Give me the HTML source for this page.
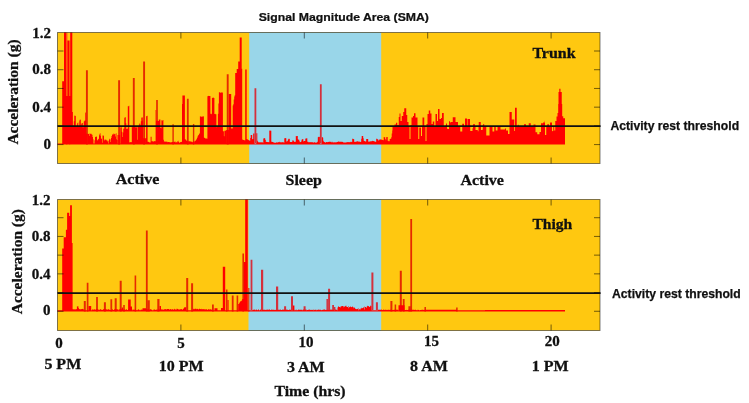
<!DOCTYPE html>
<html><head><meta charset="utf-8"><title>Signal Magnitude Area (SMA)</title>
<style>html,body{margin:0;padding:0;background:#fff}svg{display:block}</style></head>
<body>
<svg width="749" height="403" viewBox="0 0 749 403">
<rect width="749" height="403" fill="#fff"/>
<rect x="57.5" y="32.5" width="542.5" height="131.0" fill="#FFC810"/>
<rect x="249.2" y="32.5" width="132.0" height="131.0" fill="#99D6E9"/>
<path d="M66.00 144.60V32.50H67.40V144.60ZM69.20 144.60V40.40H70.20V144.60Z" fill="#FF0000" opacity="0.55"/>
<path d="M85.95 144.60V70.20H87.85V144.60ZM118.15 144.60V80.30H120.05V144.60ZM132.85 144.60V78.00H134.75V144.60ZM143.15 144.60V61.50H145.05V144.60ZM156.15 144.60V100.10H157.85V144.60ZM172.40 144.60V124.20H173.80V144.60ZM186.90 144.60V98.80H188.70V144.60ZM192.90 144.60V124.00H194.30V144.60ZM226.75 144.60V74.20H228.65V144.60Z" fill="#E62A00"/>
<path d="M57.50 144.60V143.40H565.00V144.60ZM62.20 144.60V81.30H64.00V144.60ZM64.00 144.60V32.50H66.00V144.60ZM66.00 144.60V96.00H67.40V144.60ZM67.40 144.60V40.40H69.20V144.60ZM69.20 144.60V96.00H70.20V144.60ZM70.20 144.60V32.50H72.30V144.60ZM72.30 144.60V112.00H72.90V144.60ZM72.80 144.60V125.79H73.30V144.60ZM73.30 144.60V125.58H73.80V144.60ZM73.80 144.60V121.18H74.30V144.60ZM74.30 144.60V115.49H74.80V144.60ZM74.80 144.60V116.04H75.30V144.60ZM75.30 144.60V115.84H75.80V144.60ZM75.80 144.60V126.47H76.30V144.60ZM76.30 144.60V127.01H76.80V144.60ZM76.80 144.60V124.44H77.30V144.60ZM77.30 144.60V122.92H77.80V144.60ZM77.80 144.60V122.48H78.30V144.60ZM78.30 144.60V126.92H78.80V144.60ZM78.80 144.60V127.00H79.30V144.60ZM79.30 144.60V120.39H79.80V144.60ZM79.80 144.60V119.55H80.30V144.60ZM80.30 144.60V119.67H80.80V144.60ZM80.80 144.60V125.51H81.30V144.60ZM81.30 144.60V123.75H81.80V144.60ZM81.80 144.60V123.09H82.30V144.60ZM82.30 144.60V122.88H82.80V144.60ZM82.80 144.60V127.40H83.30V144.60ZM83.30 144.60V125.73H83.80V144.60ZM83.80 144.60V121.43H84.30V144.60ZM84.30 144.60V120.75H84.80V144.60ZM84.80 144.60V120.57H85.30V144.60ZM85.30 144.60V112.54H85.80V144.60ZM85.80 144.60V112.77H86.00V144.60ZM88.00 144.60V133.97H88.50V144.60ZM88.50 144.60V133.71H89.00V144.60ZM89.00 144.60V133.48H89.50V144.60ZM89.50 144.60V135.93H90.00V144.60ZM90.00 144.60V134.03H90.50V144.60ZM90.50 144.60V133.58H91.00V144.60ZM91.00 144.60V133.84H91.50V144.60ZM91.50 144.60V134.38H92.00V144.60ZM92.00 144.60V134.64H92.50V144.60ZM92.50 144.60V137.04H93.00V144.60ZM93.00 144.60V139.32H93.50V144.60ZM93.50 144.60V144.34H94.00V144.60ZM94.00 144.60V140.36H94.50V144.60ZM95.00 144.60V136.87H95.50V144.60ZM95.50 144.60V137.03H96.00V144.60ZM96.00 144.60V136.77H96.50V144.60ZM96.50 144.60V136.61H97.00V144.60ZM97.00 144.60V140.45H97.50V144.60ZM97.50 144.60V139.66H98.00V144.60ZM98.00 144.60V138.80H98.50V144.60ZM98.50 144.60V139.34H99.00V144.60ZM99.00 144.60V135.28H99.50V144.60ZM99.50 144.60V133.84H100.00V144.60ZM100.00 144.60V133.33H100.50V144.60ZM100.50 144.60V135.77H101.00V144.60ZM101.00 144.60V138.88H101.50V144.60ZM101.50 144.60V138.15H102.00V144.60ZM102.00 144.60V142.82H102.50V144.60ZM102.50 144.60V135.57H103.00V144.60ZM103.00 144.60V135.95H103.50V144.60ZM103.50 144.60V135.19H104.00V144.60ZM104.00 144.60V139.40H104.50V144.60ZM104.50 144.60V140.42H105.00V144.60ZM105.00 144.60V139.52H105.50V144.60ZM105.50 144.60V139.78H106.00V144.60ZM106.00 144.60V140.47H106.50V144.60ZM106.50 144.60V139.84H107.00V144.60ZM107.00 144.60V140.54H107.50V144.60ZM107.50 144.60V141.54H108.00V144.60ZM108.00 144.60V140.65H108.50V144.60ZM109.00 144.60V139.52H109.50V144.60ZM109.50 144.60V138.79H110.00V144.60ZM110.00 144.60V142.11H110.50V144.60ZM110.50 144.60V139.37H111.00V144.60ZM111.00 144.60V136.10H111.50V144.60ZM111.50 144.60V137.98H112.00V144.60ZM112.00 144.60V134.87H112.50V144.60ZM112.50 144.60V134.19H113.00V144.60ZM113.00 144.60V134.45H113.50V144.60ZM113.50 144.60V133.61H114.00V144.60ZM114.00 144.60V133.68H114.50V144.60ZM114.50 144.60V134.28H115.00V144.60ZM115.00 144.60V133.66H115.50V144.60ZM115.50 144.60V136.42H116.00V144.60ZM116.00 144.60V133.21H116.50V144.60ZM116.50 144.60V139.31H117.00V144.60ZM117.00 144.60V134.98H117.50V144.60ZM117.50 144.60V140.08H117.80V144.60ZM120.30 144.60V127.38H120.80V144.60ZM120.80 144.60V127.29H121.30V144.60ZM121.30 144.60V127.16H121.80V144.60ZM121.80 144.60V131.81H122.30V144.60ZM122.30 144.60V136.89H122.80V144.60ZM122.80 144.60V132.48H123.30V144.60ZM123.30 144.60V128.72H123.80V144.60ZM123.80 144.60V128.53H124.30V144.60ZM124.30 144.60V117.72H124.80V144.60ZM124.80 144.60V117.36H125.30V144.60ZM125.30 144.60V117.28H125.80V144.60ZM125.80 144.60V123.25H126.30V144.60ZM126.30 144.60V128.89H126.80V144.60ZM126.80 144.60V128.78H127.30V144.60ZM127.30 144.60V128.74H127.80V144.60ZM127.80 144.60V106.25H128.30V144.60ZM128.30 144.60V106.19H128.80V144.60ZM128.80 144.60V105.78H129.30V144.60ZM129.30 144.60V142.19H129.80V144.60ZM129.80 144.60V142.38H130.30V144.60ZM130.30 144.60V142.12H130.80V144.60ZM130.80 144.60V142.12H131.30V144.60ZM131.30 144.60V142.32H131.80V144.60ZM131.80 144.60V126.81H132.30V144.60ZM132.30 144.60V127.15H132.80V144.60ZM132.80 144.60V127.37H133.00V144.60ZM134.80 144.60V126.96H135.30V144.60ZM135.30 144.60V127.35H135.80V144.60ZM135.80 144.60V127.39H136.30V144.60ZM136.30 144.60V127.36H136.80V144.60ZM136.80 144.60V126.89H137.30V144.60ZM137.30 144.60V139.78H137.80V144.60ZM137.80 144.60V126.28H138.30V144.60ZM138.30 144.60V126.26H138.80V144.60ZM138.80 144.60V124.76H139.30V144.60ZM139.30 144.60V123.60H139.80V144.60ZM139.80 144.60V123.82H140.30V144.60ZM140.30 144.60V125.59H140.80V144.60ZM140.80 144.60V121.23H141.30V144.60ZM141.30 144.60V117.62H141.80V144.60ZM141.80 144.60V117.74H142.30V144.60ZM142.30 144.60V117.17H142.80V144.60ZM142.80 144.60V120.38H143.10V144.60ZM145.10 144.60V138.25H145.60V144.60ZM145.60 144.60V138.17H146.10V144.60ZM146.10 144.60V116.15H146.60V144.60ZM146.60 144.60V115.99H147.10V144.60ZM147.10 144.60V115.81H147.60V144.60ZM147.60 144.60V141.73H148.10V144.60ZM148.10 144.60V141.64H148.60V144.60ZM148.60 144.60V142.11H149.10V144.60ZM149.10 144.60V142.39H149.60V144.60ZM149.60 144.60V142.23H150.10V144.60ZM150.10 144.60V142.42H150.60V144.60ZM150.60 144.60V136.77H151.10V144.60ZM151.10 144.60V136.63H151.60V144.60ZM151.60 144.60V141.28H152.10V144.60ZM152.10 144.60V141.19H152.60V144.60ZM152.60 144.60V141.14H153.10V144.60ZM153.10 144.60V141.52H153.60V144.60ZM153.60 144.60V141.39H154.10V144.60ZM154.10 144.60V140.93H154.60V144.60ZM154.60 144.60V141.27H155.10V144.60ZM155.10 144.60V141.29H155.60V144.60ZM155.60 144.60V110.09H156.10V144.60ZM156.10 144.60V109.91H156.20V144.60ZM157.90 144.60V121.04H158.40V144.60ZM158.40 144.60V120.70H158.90V144.60ZM158.90 144.60V119.11H159.40V144.60ZM159.40 144.60V119.88H159.90V144.60ZM159.90 144.60V119.62H160.40V144.60ZM160.40 144.60V128.02H160.90V144.60ZM160.90 144.60V128.35H161.40V144.60ZM161.40 144.60V120.15H161.90V144.60ZM161.90 144.60V120.50H162.40V144.60ZM162.40 144.60V120.46H162.90V144.60ZM162.90 144.60V119.97H163.40V144.60ZM163.40 144.60V139.86H163.90V144.60ZM163.90 144.60V141.38H164.40V144.60ZM164.40 144.60V141.38H164.90V144.60ZM164.90 144.60V141.70H165.40V144.60ZM165.40 144.60V141.49H165.90V144.60ZM165.90 144.60V141.66H166.40V144.60ZM166.40 144.60V141.48H166.90V144.60ZM166.90 144.60V142.15H167.40V144.60ZM167.40 144.60V141.75H167.90V144.60ZM167.90 144.60V141.88H168.40V144.60ZM168.40 144.60V142.02H168.90V144.60ZM168.90 144.60V142.32H169.40V144.60ZM169.40 144.60V141.98H169.90V144.60ZM169.90 144.60V142.43H170.40V144.60ZM170.40 144.60V142.14H170.90V144.60ZM170.90 144.60V142.21H171.40V144.60ZM171.40 144.60V142.25H171.90V144.60ZM171.90 144.60V141.89H172.40V144.60ZM174.00 144.60V141.80H174.50V144.60ZM174.50 144.60V141.66H175.00V144.60ZM175.00 144.60V141.60H175.50V144.60ZM175.50 144.60V142.51H176.00V144.60ZM176.00 144.60V142.00H176.50V144.60ZM176.50 144.60V142.42H177.00V144.60ZM177.00 144.60V142.23H177.50V144.60ZM177.50 144.60V141.06H178.00V144.60ZM178.00 144.60V140.83H178.50V144.60ZM178.50 144.60V142.02H179.00V144.60ZM179.00 144.60V142.52H179.50V144.60ZM179.50 144.60V142.67H180.00V144.60ZM180.00 144.60V141.92H180.50V144.60ZM180.50 144.60V142.30H181.00V144.60ZM181.00 144.60V141.92H181.50V144.60ZM181.50 144.60V141.87H182.00V144.60ZM182.00 144.60V142.29H182.40V144.60ZM182.40 144.60V95.40H184.90V144.60ZM182.00 144.60V104.00H182.60V144.60ZM184.90 144.60V139.19H185.40V144.60ZM185.40 144.60V139.60H185.90V144.60ZM185.90 144.60V140.15H186.40V144.60ZM186.40 144.60V140.66H186.90V144.60ZM186.90 144.60V140.44H187.00V144.60ZM188.80 144.60V141.17H189.30V144.60ZM189.30 144.60V141.18H189.80V144.60ZM189.80 144.60V141.31H190.30V144.60ZM190.30 144.60V141.61H190.80V144.60ZM190.80 144.60V141.49H191.30V144.60ZM191.30 144.60V141.69H191.80V144.60ZM191.80 144.60V141.75H192.30V144.60ZM192.30 144.60V142.33H192.80V144.60ZM192.80 144.60V142.20H193.00V144.60ZM194.40 144.60V141.19H194.90V144.60ZM194.90 144.60V141.08H195.40V144.60ZM195.40 144.60V140.44H195.90V144.60ZM195.90 144.60V140.09H196.40V144.60ZM196.40 144.60V139.01H196.90V144.60ZM196.90 144.60V137.94H197.40V144.60ZM197.40 144.60V136.45H197.90V144.60ZM197.90 144.60V135.51H198.40V144.60ZM198.40 144.60V134.98H198.90V144.60ZM198.90 144.60V133.98H199.40V144.60ZM199.40 144.60V133.34H199.90V144.60ZM199.90 144.60V116.20H200.40V144.60ZM200.40 144.60V116.62H200.90V144.60ZM200.90 144.60V116.70H201.40V144.60ZM201.40 144.60V116.78H201.90V144.60ZM201.90 144.60V116.26H202.40V144.60ZM202.40 144.60V116.65H202.90V144.60ZM202.90 144.60V116.61H203.40V144.60ZM203.40 144.60V116.25H203.90V144.60ZM203.90 144.60V137.61H204.40V144.60ZM204.40 144.60V138.10H204.90V144.60ZM204.90 144.60V138.00H205.40V144.60ZM205.40 144.60V138.82H205.90V144.60ZM205.90 144.60V138.43H206.40V144.60ZM206.40 144.60V138.49H206.90V144.60ZM206.90 144.60V138.84H207.40V144.60ZM207.40 144.60V96.33H207.90V144.60ZM207.90 144.60V95.86H208.40V144.60ZM208.40 144.60V96.05H208.90V144.60ZM208.90 144.60V96.11H209.40V144.60ZM209.40 144.60V95.99H209.90V144.60ZM209.90 144.60V95.89H210.40V144.60ZM210.40 144.60V113.87H210.90V144.60ZM210.90 144.60V114.16H211.40V144.60ZM211.40 144.60V113.66H211.90V144.60ZM211.90 144.60V97.94H212.40V144.60ZM212.40 144.60V97.86H212.90V144.60ZM212.90 144.60V97.56H213.40V144.60ZM213.40 144.60V97.78H213.90V144.60ZM213.90 144.60V97.99H214.40V144.60ZM214.40 144.60V114.01H214.90V144.60ZM214.90 144.60V113.70H215.40V144.60ZM215.40 144.60V114.34H215.90V144.60ZM215.90 144.60V114.20H216.40V144.60ZM216.40 144.60V127.33H216.90V144.60ZM216.90 144.60V126.72H217.40V144.60ZM217.40 144.60V126.84H217.90V144.60ZM217.90 144.60V113.68H218.40V144.60ZM218.40 144.60V103.45H218.90V144.60ZM218.90 144.60V92.34H219.40V144.60ZM219.40 144.60V92.24H219.90V144.60ZM219.90 144.60V92.45H220.40V144.60ZM220.40 144.60V92.79H220.90V144.60ZM220.90 144.60V92.72H221.40V144.60ZM221.40 144.60V92.33H221.90V144.60ZM221.90 144.60V92.25H222.40V144.60ZM222.40 144.60V92.79H222.90V144.60ZM222.90 144.60V131.10H223.40V144.60ZM223.40 144.60V131.46H223.90V144.60ZM223.90 144.60V136.31H224.40V144.60ZM224.40 144.60V130.69H224.90V144.60ZM224.90 144.60V130.89H225.40V144.60ZM225.40 144.60V130.46H225.90V144.60ZM225.90 144.60V129.97H226.40V144.60ZM226.40 144.60V130.33H226.70V144.60ZM228.70 144.60V93.90H229.20V144.60ZM229.20 144.60V93.90H229.70V144.60ZM229.70 144.60V93.90H230.20V144.60ZM230.20 144.60V93.90H230.70V144.60ZM230.70 144.60V93.90H231.20V144.60ZM231.20 144.60V128.50H231.70V144.60ZM231.70 144.60V128.50H232.20V144.60ZM232.20 144.60V128.50H232.70V144.60ZM232.70 144.60V105.38H233.20V144.60ZM233.20 144.60V104.13H233.70V144.60ZM233.70 144.60V99.50H234.20V144.60ZM234.20 144.60V96.42H234.70V144.60ZM234.70 144.60V95.28H235.20V144.60ZM235.20 144.60V72.90H235.70V144.60ZM235.70 144.60V72.90H236.20V144.60ZM236.20 144.60V72.90H236.70V144.60ZM236.70 144.60V68.90H237.20V144.60ZM237.20 144.60V68.90H237.70V144.60ZM237.70 144.60V68.90H238.20V144.60ZM238.20 144.60V61.50H238.70V144.60ZM238.70 144.60V61.50H239.20V144.60ZM239.20 144.60V61.50H239.70V144.60ZM239.70 144.60V37.40H240.20V144.60ZM240.20 144.60V37.40H240.70V144.60ZM240.70 144.60V37.40H241.20V144.60ZM241.20 144.60V37.40H241.70V144.60ZM241.70 144.60V68.70H242.20V144.60ZM242.20 144.60V139.50H242.70V144.60ZM242.70 144.60V139.70H243.20V144.60ZM243.20 144.60V139.90H243.70V144.60ZM243.70 144.60V140.10H244.20V144.60ZM244.20 144.60V140.30H244.70V144.60ZM244.70 144.60V140.50H245.20V144.60ZM245.20 144.60V69.50H245.70V144.60ZM245.70 144.60V69.50H246.20V144.60ZM246.20 144.60V69.50H246.70V144.60ZM246.70 144.60V139.03H247.20V144.60ZM247.20 144.60V139.34H247.70V144.60ZM247.70 144.60V139.66H248.20V144.60ZM248.20 144.60V139.97H248.70V144.60ZM248.70 144.60V140.24H249.20V144.60ZM249.20 144.60V140.50H249.70V144.60ZM249.70 144.60V140.76H250.20V144.60ZM250.20 144.60V138.00H250.70V144.60ZM250.70 144.60V135.00H251.20V144.60ZM251.20 144.60V135.00H251.70V144.60ZM251.70 144.60V135.00H252.20V144.60ZM252.20 144.60V139.32H252.70V144.60ZM252.70 144.60V139.03H253.20V144.60ZM253.20 144.60V133.50H253.70V144.60ZM253.70 144.60V133.50H254.20V144.60ZM254.20 144.60V133.50H254.50V144.60ZM256.30 144.60V133.33H256.80V144.60ZM256.80 144.60V133.26H257.30V144.60ZM257.30 144.60V140.76H257.80V144.60ZM257.80 144.60V141.79H258.30V144.60ZM258.30 144.60V142.31H258.80V144.60ZM258.80 144.60V142.62H259.30V144.60ZM259.30 144.60V142.32H259.80V144.60ZM259.80 144.60V142.27H260.30V144.60ZM260.30 144.60V142.28H260.80V144.60ZM260.80 144.60V142.38H261.30V144.60ZM261.30 144.60V142.14H261.80V144.60ZM261.80 144.60V142.32H262.30V144.60ZM262.30 144.60V142.17H262.80V144.60ZM262.80 144.60V142.64H263.30V144.60ZM263.30 144.60V138.53H263.80V144.60ZM263.80 144.60V138.23H264.30V144.60ZM264.30 144.60V138.02H264.80V144.60ZM264.80 144.60V138.53H265.30V144.60ZM265.30 144.60V139.97H265.80V144.60ZM265.80 144.60V141.92H266.30V144.60ZM266.30 144.60V141.70H266.80V144.60ZM266.80 144.60V141.99H267.30V144.60ZM267.30 144.60V142.08H267.80V144.60ZM267.80 144.60V142.13H268.30V144.60ZM268.30 144.60V141.95H268.80V144.60ZM268.80 144.60V142.18H269.30V144.60ZM269.30 144.60V130.55H269.80V144.60ZM269.80 144.60V130.73H270.30V144.60ZM270.30 144.60V130.61H270.80V144.60ZM270.80 144.60V130.83H271.30V144.60ZM271.30 144.60V141.69H271.80V144.60ZM271.80 144.60V141.76H272.30V144.60ZM272.30 144.60V142.04H272.80V144.60ZM272.80 144.60V142.08H273.30V144.60ZM273.30 144.60V142.41H273.80V144.60ZM273.80 144.60V142.46H274.30V144.60ZM274.30 144.60V142.70H274.80V144.60ZM274.80 144.60V142.70H275.30V144.60ZM275.30 144.60V142.69H275.80V144.60ZM275.80 144.60V142.74H276.30V144.60ZM276.30 144.60V142.34H276.80V144.60ZM276.80 144.60V142.23H277.30V144.60ZM277.30 144.60V142.63H277.80V144.60ZM277.80 144.60V141.99H278.30V144.60ZM278.30 144.60V142.33H278.80V144.60ZM278.80 144.60V142.21H279.30V144.60ZM279.30 144.60V141.73H279.80V144.60ZM279.80 144.60V142.24H280.30V144.60ZM280.30 144.60V142.33H280.80V144.60ZM280.80 144.60V142.19H281.30V144.60ZM281.30 144.60V142.31H281.80V144.60ZM281.80 144.60V142.42H282.30V144.60ZM282.30 144.60V142.00H282.80V144.60ZM282.80 144.60V142.31H283.30V144.60ZM283.30 144.60V142.35H283.80V144.60ZM283.80 144.60V142.63H284.30V144.60ZM284.30 144.60V138.21H284.80V144.60ZM284.80 144.60V138.23H285.30V144.60ZM285.30 144.60V138.06H285.80V144.60ZM285.80 144.60V138.27H286.30V144.60ZM286.30 144.60V141.57H286.80V144.60ZM286.80 144.60V141.49H287.30V144.60ZM287.30 144.60V141.09H287.80V144.60ZM287.80 144.60V139.77H288.30V144.60ZM288.30 144.60V138.74H288.80V144.60ZM288.80 144.60V138.90H289.30V144.60ZM289.30 144.60V138.72H289.80V144.60ZM289.80 144.60V142.05H290.30V144.60ZM290.30 144.60V141.90H290.80V144.60ZM290.80 144.60V141.99H291.30V144.60ZM291.30 144.60V142.03H291.80V144.60ZM291.80 144.60V142.11H292.30V144.60ZM292.30 144.60V140.49H292.80V144.60ZM292.80 144.60V140.15H293.30V144.60ZM293.30 144.60V140.71H293.80V144.60ZM293.80 144.60V141.42H294.30V144.60ZM294.30 144.60V141.88H294.80V144.60ZM294.80 144.60V141.76H295.30V144.60ZM295.30 144.60V141.71H295.80V144.60ZM295.80 144.60V135.90H296.30V144.60ZM296.30 144.60V136.37H296.80V144.60ZM296.80 144.60V136.03H297.30V144.60ZM297.30 144.60V135.90H297.80V144.60ZM297.80 144.60V139.35H298.30V144.60ZM298.30 144.60V139.84H298.80V144.60ZM298.80 144.60V139.64H299.30V144.60ZM299.30 144.60V141.17H299.80V144.60ZM299.80 144.60V142.33H300.30V144.60ZM300.30 144.60V142.00H300.80V144.60ZM300.80 144.60V141.92H301.30V144.60ZM301.30 144.60V140.49H301.80V144.60ZM301.80 144.60V139.13H302.30V144.60ZM302.30 144.60V139.19H302.80V144.60ZM302.80 144.60V139.08H303.30V144.60ZM303.30 144.60V141.59H303.80V144.60ZM303.80 144.60V141.05H304.30V144.60ZM304.30 144.60V140.96H304.80V144.60ZM304.80 144.60V140.90H305.30V144.60ZM305.30 144.60V138.67H305.80V144.60ZM305.80 144.60V138.36H306.30V144.60ZM306.30 144.60V138.55H306.80V144.60ZM306.80 144.60V138.16H307.30V144.60ZM307.30 144.60V141.70H307.80V144.60ZM307.80 144.60V141.87H308.30V144.60ZM308.30 144.60V142.18H308.80V144.60ZM308.80 144.60V142.22H309.30V144.60ZM309.30 144.60V142.23H309.80V144.60ZM309.80 144.60V141.98H310.30V144.60ZM310.30 144.60V142.17H310.80V144.60ZM310.80 144.60V142.16H311.30V144.60ZM311.30 144.60V142.18H311.80V144.60ZM311.80 144.60V141.96H312.30V144.60ZM312.30 144.60V142.53H312.80V144.60ZM312.80 144.60V142.07H313.30V144.60ZM313.30 144.60V142.64H313.80V144.60ZM313.80 144.60V142.63H314.30V144.60ZM314.30 144.60V142.02H314.80V144.60ZM314.80 144.60V142.35H315.30V144.60ZM315.30 144.60V142.63H315.80V144.60ZM315.80 144.60V142.76H316.30V144.60ZM316.30 144.60V142.42H316.80V144.60ZM316.80 144.60V142.32H317.30V144.60ZM317.30 144.60V141.74H317.80V144.60ZM317.80 144.60V137.21H318.30V144.60ZM318.30 144.60V136.70H318.80V144.60ZM318.80 144.60V136.96H319.30V144.60ZM319.30 144.60V136.65H319.80V144.60ZM319.80 144.60V136.92H319.90V144.60ZM321.70 144.60V137.33H322.20V144.60ZM322.20 144.60V136.99H322.70V144.60ZM322.70 144.60V137.70H323.20V144.60ZM323.20 144.60V140.66H323.70V144.60ZM323.70 144.60V141.72H324.20V144.60ZM324.20 144.60V142.09H324.70V144.60ZM324.70 144.60V142.26H325.20V144.60ZM325.20 144.60V142.72H325.70V144.60ZM325.70 144.60V142.36H326.20V144.60ZM326.20 144.60V141.96H326.70V144.60ZM326.70 144.60V141.88H327.20V144.60ZM327.20 144.60V142.15H327.70V144.60ZM327.70 144.60V142.05H328.20V144.60ZM328.20 144.60V141.88H328.70V144.60ZM328.70 144.60V141.70H329.20V144.60ZM329.20 144.60V141.77H329.70V144.60ZM329.70 144.60V141.68H330.20V144.60ZM330.20 144.60V142.09H330.70V144.60ZM330.70 144.60V141.57H331.20V144.60ZM331.20 144.60V142.15H331.70V144.60ZM331.70 144.60V142.27H332.20V144.60ZM332.20 144.60V141.83H332.70V144.60ZM332.70 144.60V142.45H333.20V144.60ZM333.20 144.60V142.36H333.70V144.60ZM333.70 144.60V142.56H334.20V144.60ZM334.20 144.60V142.19H334.70V144.60ZM334.70 144.60V142.30H335.20V144.60ZM335.20 144.60V142.25H335.70V144.60ZM335.70 144.60V142.60H336.20V144.60ZM336.20 144.60V142.23H336.70V144.60ZM336.70 144.60V141.99H337.20V144.60ZM337.20 144.60V141.96H337.70V144.60ZM337.70 144.60V141.77H338.20V144.60ZM338.20 144.60V141.53H338.70V144.60ZM338.70 144.60V141.49H339.20V144.60ZM339.20 144.60V141.92H339.70V144.60ZM339.70 144.60V141.46H340.20V144.60ZM340.20 144.60V141.97H340.70V144.60ZM340.70 144.60V141.56H341.20V144.60ZM341.20 144.60V141.64H341.70V144.60ZM341.70 144.60V141.88H342.20V144.60ZM342.20 144.60V141.73H342.70V144.60ZM342.70 144.60V141.92H343.20V144.60ZM343.20 144.60V142.40H343.70V144.60ZM343.70 144.60V142.42H344.20V144.60ZM344.20 144.60V142.44H344.70V144.60ZM344.70 144.60V142.38H345.20V144.60ZM345.20 144.60V142.57H345.70V144.60ZM345.70 144.60V142.57H346.20V144.60ZM346.20 144.60V142.27H346.70V144.60ZM346.70 144.60V142.37H347.20V144.60ZM347.20 144.60V141.88H347.70V144.60ZM347.70 144.60V142.34H348.20V144.60ZM348.20 144.60V142.12H348.70V144.60ZM348.70 144.60V142.31H349.20V144.60ZM349.20 144.60V142.21H349.70V144.60ZM349.70 144.60V141.94H350.20V144.60ZM350.20 144.60V141.75H350.70V144.60ZM350.70 144.60V142.34H351.20V144.60ZM351.20 144.60V141.76H351.70V144.60ZM351.70 144.60V141.98H352.20V144.60ZM352.20 144.60V138.79H352.70V144.60ZM352.70 144.60V138.76H353.20V144.60ZM353.20 144.60V139.07H353.70V144.60ZM353.70 144.60V139.23H354.20V144.60ZM354.20 144.60V141.79H354.70V144.60ZM354.70 144.60V142.00H355.20V144.60ZM355.20 144.60V141.69H355.70V144.60ZM355.70 144.60V141.80H356.20V144.60ZM356.20 144.60V141.62H356.70V144.60ZM356.70 144.60V141.40H357.20V144.60ZM357.20 144.60V141.33H357.70V144.60ZM357.70 144.60V141.30H358.20V144.60ZM358.20 144.60V141.82H358.70V144.60ZM358.70 144.60V141.58H359.20V144.60ZM359.20 144.60V141.43H359.70V144.60ZM359.70 144.60V141.96H360.20V144.60ZM360.20 144.60V142.06H360.70V144.60ZM360.70 144.60V141.73H361.20V144.60ZM361.20 144.60V138.75H361.70V144.60ZM361.70 144.60V135.98H362.20V144.60ZM362.20 144.60V135.91H362.70V144.60ZM362.70 144.60V136.09H363.20V144.60ZM363.20 144.60V138.31H363.70V144.60ZM363.70 144.60V140.87H364.20V144.60ZM364.20 144.60V140.94H364.70V144.60ZM364.70 144.60V141.22H365.20V144.60ZM365.20 144.60V141.50H365.70V144.60ZM365.70 144.60V141.46H366.20V144.60ZM366.20 144.60V138.94H366.70V144.60ZM366.70 144.60V138.94H367.20V144.60ZM367.20 144.60V139.02H367.70V144.60ZM367.70 144.60V138.91H368.20V144.60ZM368.20 144.60V141.80H368.70V144.60ZM368.70 144.60V141.48H369.20V144.60ZM369.20 144.60V141.50H369.70V144.60ZM369.70 144.60V141.85H370.20V144.60ZM370.20 144.60V141.14H370.70V144.60ZM370.70 144.60V141.27H371.20V144.60ZM371.20 144.60V141.23H371.70V144.60ZM371.70 144.60V141.27H372.20V144.60ZM372.20 144.60V140.85H372.70V144.60ZM372.70 144.60V140.95H373.20V144.60ZM373.20 144.60V141.00H373.70V144.60ZM373.70 144.60V141.16H374.20V144.60ZM374.20 144.60V141.25H374.70V144.60ZM374.70 144.60V141.67H375.20V144.60ZM375.20 144.60V141.65H375.70V144.60ZM375.70 144.60V141.73H376.20V144.60ZM376.20 144.60V138.67H376.70V144.60ZM376.70 144.60V138.67H377.20V144.60ZM377.20 144.60V139.15H377.70V144.60ZM377.70 144.60V139.28H378.20V144.60ZM378.20 144.60V140.40H378.70V144.60ZM378.70 144.60V140.20H379.20V144.60ZM379.20 144.60V139.51H379.70V144.60ZM379.70 144.60V139.51H380.20V144.60ZM380.20 144.60V139.60H380.70V144.60ZM380.70 144.60V139.26H381.20V144.60ZM381.20 144.60V139.52H381.70V144.60ZM381.70 144.60V139.90H382.20V144.60ZM382.20 144.60V139.69H382.70V144.60ZM382.70 144.60V139.90H383.20V144.60ZM383.20 144.60V140.23H383.70V144.60ZM383.70 144.60V137.02H384.20V144.60ZM384.20 144.60V137.13H384.70V144.60ZM384.70 144.60V137.31H385.20V144.60ZM385.20 144.60V138.91H385.70V144.60ZM385.70 144.60V140.28H386.20V144.60ZM386.20 144.60V137.19H386.70V144.60ZM386.70 144.60V136.97H387.20V144.60ZM387.20 144.60V137.04H387.70V144.60ZM387.70 144.60V140.68H388.20V144.60ZM388.20 144.60V141.20H388.70V144.60ZM388.70 144.60V140.81H389.20V144.60ZM389.20 144.60V141.29H389.70V144.60ZM389.70 144.60V139.10H390.20V144.60ZM390.20 144.60V138.86H390.70V144.60ZM390.70 144.60V138.74H391.20V144.60ZM391.20 144.60V137.33H391.70V144.60ZM391.70 144.60V133.40H392.20V144.60ZM392.20 144.60V130.44H392.50V144.60ZM392.50 144.60V127.00H394.50V144.60ZM394.50 144.60V124.50H396.00V144.60ZM396.00 144.60V122.80H397.25V144.60ZM397.25 144.60V125.00H398.75V144.60ZM398.75 144.60V117.00H399.50V144.60ZM399.50 144.60V113.40H400.50V144.60ZM400.50 144.60V121.00H401.75V144.60ZM401.75 144.60V116.00H403.25V144.60ZM403.25 144.60V112.00H404.25V144.60ZM404.25 144.60V108.30H406.25V144.60ZM406.25 144.60V115.00H407.25V144.60ZM407.25 144.60V122.00H408.50V144.60ZM408.50 144.60V127.00H409.50V144.60ZM409.50 144.60V139.00H410.50V144.60ZM410.50 144.60V125.00H411.50V144.60ZM411.50 144.60V117.40H413.00V144.60ZM413.00 144.60V116.00H414.00V144.60ZM414.00 144.60V113.20H415.50V144.60ZM415.50 144.60V117.40H417.50V144.60ZM417.50 144.60V127.00H418.25V144.60ZM418.25 144.60V138.90H419.25V144.60ZM419.25 144.60V127.50H421.00V144.60ZM421.00 144.60V136.00H422.00V144.60ZM422.00 144.60V126.00H422.50V144.60ZM422.50 144.60V117.40H424.25V144.60ZM424.25 144.60V126.00H425.50V144.60ZM425.50 144.60V141.00H426.50V144.60ZM426.50 144.60V124.00H427.50V144.60ZM427.50 144.60V114.00H428.75V144.60ZM428.75 144.60V110.50H430.25V144.60ZM430.25 144.60V113.50H431.50V144.60ZM431.50 144.60V124.00H432.75V144.60ZM432.75 144.60V121.50H434.25V144.60ZM434.25 144.60V126.00H435.50V144.60ZM435.50 144.60V114.00H437.00V144.60ZM437.00 144.60V121.00H438.00V144.60ZM438.00 144.60V109.10H439.50V144.60ZM439.50 144.60V119.00H441.00V144.60ZM441.00 144.60V118.00H442.00V144.60ZM442.00 144.60V113.00H443.75V144.60ZM443.75 144.60V126.00H445.00V144.60ZM445.00 144.60V125.73H446.00V144.60ZM446.00 144.60V123.61H447.00V144.60ZM447.00 144.60V128.63H448.00V144.60ZM448.00 144.60V129.00H449.00V144.60ZM449.00 144.60V121.25H450.00V144.60ZM450.00 144.60V122.79H450.50V144.60ZM450.50 144.60V122.00H452.75V144.60ZM452.75 144.60V117.20H455.50V144.60ZM455.50 144.60V122.00H458.00V144.60ZM458.00 144.60V126.00H460.25V144.60ZM460.25 144.60V131.40H462.25V144.60ZM462.25 144.60V123.80H464.00V144.60ZM464.00 144.60V126.00H465.00V144.60ZM465.00 144.60V118.60H467.00V144.60ZM467.00 144.60V126.00H467.50V144.60ZM467.50 144.60V119.10H470.00V144.60ZM470.00 144.60V124.63H470.25V144.60ZM470.25 144.60V130.90H472.50V144.60ZM472.50 144.60V128.30H473.00V144.60ZM473.00 144.60V124.30H475.00V144.60ZM475.00 144.60V126.29H475.50V144.60ZM475.50 144.60V130.00H477.75V144.60ZM477.75 144.60V131.17H478.50V144.60ZM478.50 144.60V125.83H478.75V144.60ZM478.75 144.60V121.90H480.75V144.60ZM480.75 144.60V125.50H481.00V144.60ZM481.00 144.60V130.00H482.50V144.60ZM482.50 144.60V125.50H482.75V144.60ZM482.75 144.60V129.53H483.00V144.60ZM483.00 144.60V124.30H484.25V144.60ZM484.25 144.60V126.00H486.25V144.60ZM486.25 144.60V135.60H489.50V144.60ZM489.50 144.60V126.00H492.50V144.60ZM492.50 144.60V131.40H494.25V144.60ZM494.25 144.60V126.00H495.75V144.60ZM495.75 144.60V130.40H497.50V144.60ZM497.50 144.60V126.30H500.50V144.60ZM500.50 144.60V129.50H505.00V144.60ZM505.00 144.60V128.50H506.00V144.60ZM506.00 144.60V130.40H508.00V144.60ZM508.00 144.60V134.00H509.50V144.60ZM509.50 144.60V112.00H511.75V144.60ZM511.75 144.60V119.60H514.25V144.60ZM514.25 144.60V131.00H515.00V144.60ZM515.00 144.60V107.80H516.75V144.60ZM516.75 144.60V126.00H517.75V144.60ZM517.75 144.60V124.80H518.75V144.60ZM518.75 144.60V126.00H524.00V144.60ZM524.00 144.60V124.30H526.00V144.60ZM526.00 144.60V126.20H528.75V144.60ZM528.75 144.60V123.30H530.75V144.60ZM530.75 144.60V126.00H533.50V144.60ZM533.50 144.60V124.60H535.50V144.60ZM535.50 144.60V132.30H537.25V144.60ZM537.25 144.60V134.20H539.50V144.60ZM539.50 144.60V132.00H541.00V144.60ZM541.00 144.60V123.20H543.00V144.60ZM543.00 144.60V122.40H544.75V144.60ZM544.75 144.60V120.83H545.00V144.60ZM545.00 144.60V135.00H546.25V144.60ZM546.25 144.60V126.50H547.25V144.60ZM547.25 144.60V124.30H549.00V144.60ZM549.00 144.60V126.30H550.00V144.60ZM550.00 144.60V122.40H552.00V144.60ZM552.00 144.60V131.27H552.50V144.60ZM552.50 144.60V131.00H553.25V144.60ZM553.25 144.60V126.00H554.25V144.60ZM554.25 144.60V130.50H555.25V144.60ZM555.25 144.60V121.00H556.50V144.60ZM556.50 144.60V116.50H557.50V144.60ZM557.50 144.60V113.00H558.50V144.60ZM558.50 144.60V92.00H559.25V144.60ZM559.25 144.60V88.70H560.50V144.60ZM560.50 144.60V92.00H561.75V144.60ZM561.75 144.60V116.30H563.25V144.60ZM563.25 144.60V118.20H565.00V144.60ZM558.20 144.60V104.00H562.20V144.60ZM85.95 144.60V133.71H87.85V144.60ZM118.15 144.60V134.98H120.05V144.60ZM132.85 144.60V126.96H134.75V144.60ZM143.15 144.60V138.17H145.05V144.60ZM156.15 144.60V120.70H157.85V144.60ZM172.40 144.60V141.89H173.80V144.60ZM186.90 144.60V141.17H188.70V144.60ZM192.90 144.60V141.75H194.30V144.60ZM226.75 144.60V129.97H228.65V144.60Z" fill="#FF0000"/>
<path d="M254.50 143.10V88.20H256.30V143.10ZM319.90 143.10V84.20H321.70V143.10Z" fill="#D4303C"/>
<path d="M57.5 51.01h6M57.5 69.73h6M57.5 88.44h6M57.5 107.16h6M57.5 125.87h6M57.5 144.58h6M600.0 51.01h-6M600.0 69.73h-6M600.0 88.44h-6M600.0 107.16h-6M600.0 125.87h-6M600.0 144.58h-6M180.90 32.5v6M180.90 163.5v-6M304.30 32.5v6M304.30 163.5v-6M427.70 32.5v6M427.70 163.5v-6M551.10 32.5v6M551.10 163.5v-6" stroke="#000" stroke-opacity="0.62" stroke-width="0.9" fill="none"/>
<rect x="57.5" y="32.5" width="542.5" height="131.0" fill="none" stroke="#000" stroke-opacity="0.5" stroke-width="1"/>
<path d="M57.5 126.2H600.6" stroke="#111" stroke-width="1.75" fill="none"/>
<rect x="57.5" y="199.5" width="542.5" height="131.0" fill="#FFC810"/>
<rect x="248.5" y="199.5" width="132.7" height="131.0" fill="#99D6E9"/>
<path d="M83.80 311.40V300.90H85.80V311.40ZM86.75 311.40V282.80H88.45V311.40ZM96.10 311.40V297.10H97.90V311.40ZM103.90 311.40V302.20H105.90V311.40ZM110.40 311.40V299.30H112.20V311.40ZM114.70 311.40V298.20H116.70V311.40ZM119.70 311.40V280.80H121.70V311.40ZM123.20 311.40V304.90H124.80V311.40ZM134.60 311.40V275.40H136.20V311.40ZM145.90 311.40V230.50H147.70V311.40ZM147.80 311.40V300.20H149.80V311.40ZM157.30 311.40V298.90H159.50V311.40ZM186.20 311.40V278.10H188.20V311.40ZM191.10 311.40V283.20H193.10V311.40ZM212.00 311.40V304.60H213.80V311.40ZM225.90 311.40V289.50H227.50V311.40ZM231.80 311.40V295.50H233.60V311.40ZM236.60 311.40V295.50H238.20V311.40ZM242.40 311.40V253.40H244.00V311.40ZM248.20 311.40V288.00H249.40V311.40ZM390.40 311.40V301.10H392.40V311.40ZM394.65 311.40V304.60H396.15V311.40ZM399.80 311.40V270.70H401.80V311.40ZM402.80 311.40V298.90H404.60V311.40ZM408.40 311.40V306.20H410.40V311.40ZM410.30 311.40V219.10H412.10V311.40ZM424.45 311.40V306.90H425.95V311.40ZM456.15 311.40V307.50H457.65V311.40Z" fill="#E62A00"/>
<path d="M57.50 311.40V310.30H565.00V311.40ZM425.00 311.40V309.80H457.00V311.40ZM485.00 311.40V309.90H565.00V311.40ZM62.20 311.40V248.40H63.70V311.40ZM63.70 311.40V237.30H65.90V311.40ZM65.90 311.40V229.80H67.10V311.40ZM67.10 311.40V212.70H69.20V311.40ZM69.20 311.40V216.00H70.10V311.40ZM70.10 311.40V205.20H71.90V311.40ZM71.90 311.40V243.00H72.60V311.40ZM72.40 311.40V309.18H72.90V311.40ZM72.90 311.40V309.12H73.40V311.40ZM73.40 311.40V309.47H73.90V311.40ZM73.90 311.40V309.49H74.40V311.40ZM74.40 311.40V309.31H74.90V311.40ZM74.90 311.40V309.16H75.40V311.40ZM75.40 311.40V309.44H75.90V311.40ZM75.90 311.40V308.95H76.40V311.40ZM76.40 311.40V309.16H76.90V311.40ZM76.90 311.40V306.17H77.40V311.40ZM77.40 311.40V306.57H77.90V311.40ZM77.90 311.40V306.32H78.40V311.40ZM78.40 311.40V308.06H78.90V311.40ZM78.90 311.40V309.25H79.40V311.40ZM79.40 311.40V309.03H79.90V311.40ZM79.90 311.40V309.01H80.40V311.40ZM80.40 311.40V309.55H80.90V311.40ZM80.90 311.40V309.32H81.40V311.40ZM81.40 311.40V308.97H81.90V311.40ZM81.90 311.40V308.71H82.40V311.40ZM82.40 311.40V309.07H82.90V311.40ZM82.90 311.40V309.18H83.40V311.40ZM83.40 311.40V308.94H83.80V311.40ZM88.50 311.40V306.00H91.20V311.40ZM121.70 311.40V307.50H123.00V311.40ZM128.10 311.40V299.50H130.70V311.40ZM130.70 311.40V306.50H132.00V311.40ZM142.50 311.40V308.30H146.00V311.40ZM92.00 311.40V309.36H92.50V311.40ZM92.50 311.40V309.77H93.00V311.40ZM93.00 311.40V310.03H93.50V311.40ZM93.50 311.40V309.33H94.00V311.40ZM94.00 311.40V309.14H94.50V311.40ZM94.50 311.40V309.45H95.00V311.40ZM95.00 311.40V309.53H95.50V311.40ZM95.50 311.40V309.79H96.00V311.40ZM96.00 311.40V309.31H96.50V311.40ZM96.50 311.40V309.91H97.00V311.40ZM97.00 311.40V309.86H97.50V311.40ZM97.50 311.40V309.62H98.00V311.40ZM98.00 311.40V309.32H98.50V311.40ZM98.50 311.40V310.09H99.00V311.40ZM99.00 311.40V309.43H99.50V311.40ZM99.50 311.40V309.94H100.00V311.40ZM100.00 311.40V309.36H100.50V311.40ZM100.50 311.40V309.35H101.00V311.40ZM101.00 311.40V309.89H101.50V311.40ZM101.50 311.40V309.42H102.00V311.40ZM102.00 311.40V310.08H102.50V311.40ZM102.50 311.40V309.63H103.00V311.40ZM103.00 311.40V309.32H103.50V311.40ZM103.50 311.40V309.36H104.00V311.40ZM104.00 311.40V309.55H104.50V311.40ZM104.50 311.40V309.80H105.00V311.40ZM105.00 311.40V310.09H105.50V311.40ZM105.50 311.40V309.29H106.00V311.40ZM106.00 311.40V309.54H106.50V311.40ZM106.50 311.40V309.36H107.00V311.40ZM107.00 311.40V310.12H107.50V311.40ZM107.50 311.40V309.29H108.00V311.40ZM108.00 311.40V309.20H108.50V311.40ZM108.50 311.40V309.21H109.00V311.40ZM109.00 311.40V309.55H109.50V311.40ZM109.50 311.40V310.05H110.00V311.40ZM110.00 311.40V310.04H110.50V311.40ZM110.50 311.40V309.89H111.00V311.40ZM111.00 311.40V310.16H111.50V311.40ZM111.50 311.40V310.09H112.00V311.40ZM112.00 311.40V309.49H112.50V311.40ZM112.50 311.40V309.35H113.00V311.40ZM113.00 311.40V310.10H113.50V311.40ZM113.50 311.40V309.91H114.00V311.40ZM114.00 311.40V309.20H114.50V311.40ZM114.50 311.40V309.83H115.00V311.40ZM115.00 311.40V309.55H115.50V311.40ZM115.50 311.40V309.55H116.00V311.40ZM116.00 311.40V309.51H116.50V311.40ZM116.50 311.40V309.35H117.00V311.40ZM117.00 311.40V309.18H117.50V311.40ZM117.50 311.40V309.46H118.00V311.40ZM118.00 311.40V309.53H118.50V311.40ZM118.50 311.40V310.14H119.00V311.40ZM119.00 311.40V309.31H119.50V311.40ZM119.50 311.40V310.15H120.00V311.40ZM120.00 311.40V309.39H120.50V311.40ZM120.50 311.40V309.55H121.00V311.40ZM121.00 311.40V310.01H121.50V311.40ZM121.50 311.40V310.01H122.00V311.40ZM122.00 311.40V309.63H122.50V311.40ZM122.50 311.40V309.24H123.00V311.40ZM123.00 311.40V309.67H123.50V311.40ZM123.50 311.40V309.57H124.00V311.40ZM124.00 311.40V310.12H124.50V311.40ZM124.50 311.40V309.39H125.00V311.40ZM125.00 311.40V309.57H125.50V311.40ZM125.50 311.40V310.10H126.00V311.40ZM126.00 311.40V309.24H126.50V311.40ZM126.50 311.40V309.62H127.00V311.40ZM127.00 311.40V310.02H127.50V311.40ZM127.50 311.40V309.98H128.00V311.40ZM128.00 311.40V309.25H128.50V311.40ZM128.50 311.40V309.25H129.00V311.40ZM129.00 311.40V309.28H129.50V311.40ZM129.50 311.40V310.14H130.00V311.40ZM130.00 311.40V309.47H130.50V311.40ZM130.50 311.40V309.97H131.00V311.40ZM131.00 311.40V310.12H131.50V311.40ZM131.50 311.40V309.56H132.00V311.40ZM132.00 311.40V309.50H132.50V311.40ZM132.50 311.40V310.18H133.00V311.40ZM133.00 311.40V309.84H133.50V311.40ZM133.50 311.40V309.49H134.00V311.40ZM134.00 311.40V309.95H134.50V311.40ZM134.50 311.40V309.55H135.00V311.40ZM135.00 311.40V309.51H135.50V311.40ZM135.50 311.40V309.24H136.00V311.40ZM136.00 311.40V309.99H136.50V311.40ZM136.50 311.40V310.15H137.00V311.40ZM137.00 311.40V309.87H137.50V311.40ZM137.50 311.40V310.18H138.00V311.40ZM138.00 311.40V309.27H138.50V311.40ZM138.50 311.40V309.48H139.00V311.40ZM139.00 311.40V309.72H139.50V311.40ZM139.50 311.40V310.20H140.00V311.40ZM140.00 311.40V310.20H140.50V311.40ZM140.50 311.40V309.64H141.00V311.40ZM141.00 311.40V309.50H141.50V311.40ZM141.50 311.40V309.68H142.00V311.40ZM142.00 311.40V309.75H142.50V311.40ZM142.50 311.40V310.18H143.00V311.40ZM143.00 311.40V309.44H143.50V311.40ZM143.50 311.40V310.06H144.00V311.40ZM144.00 311.40V310.00H144.50V311.40ZM144.50 311.40V310.09H145.00V311.40ZM145.00 311.40V310.04H145.50V311.40ZM145.50 311.40V309.87H146.00V311.40ZM146.00 311.40V309.59H146.50V311.40ZM146.50 311.40V309.59H147.00V311.40ZM147.00 311.40V309.63H147.50V311.40ZM147.50 311.40V310.05H148.00V311.40ZM148.00 311.40V309.35H148.50V311.40ZM148.50 311.40V309.47H149.00V311.40ZM149.00 311.40V310.03H149.50V311.40ZM149.50 311.40V309.52H150.00V311.40ZM150.00 311.40V309.34H150.50V311.40ZM150.50 311.40V309.31H151.00V311.40ZM151.00 311.40V309.83H151.50V311.40ZM151.50 311.40V309.61H152.00V311.40ZM152.00 311.40V310.27H152.50V311.40ZM152.50 311.40V310.17H153.00V311.40ZM153.00 311.40V310.28H153.50V311.40ZM153.50 311.40V309.55H154.00V311.40ZM154.00 311.40V309.38H154.50V311.40ZM154.50 311.40V309.39H155.00V311.40ZM155.00 311.40V309.79H155.50V311.40ZM155.50 311.40V310.01H156.00V311.40ZM156.00 311.40V309.74H156.50V311.40ZM156.50 311.40V309.53H157.00V311.40ZM159.50 311.40V306.00H161.00V311.40ZM161.00 311.40V309.22H161.50V311.40ZM161.50 311.40V309.42H162.00V311.40ZM162.00 311.40V309.47H162.50V311.40ZM162.50 311.40V309.54H163.00V311.40ZM163.00 311.40V309.64H163.50V311.40ZM163.50 311.40V309.45H164.00V311.40ZM164.00 311.40V308.91H164.50V311.40ZM164.50 311.40V309.62H165.00V311.40ZM165.00 311.40V309.07H165.50V311.40ZM165.50 311.40V309.35H166.00V311.40ZM166.00 311.40V309.15H166.50V311.40ZM166.50 311.40V309.51H167.00V311.40ZM167.00 311.40V308.97H167.50V311.40ZM167.50 311.40V309.02H168.00V311.40ZM168.00 311.40V309.01H168.50V311.40ZM168.50 311.40V308.92H169.00V311.40ZM169.00 311.40V309.65H169.50V311.40ZM169.50 311.40V309.34H170.00V311.40ZM170.00 311.40V309.09H170.50V311.40ZM170.50 311.40V309.15H171.00V311.40ZM171.00 311.40V309.75H171.50V311.40ZM171.50 311.40V309.26H172.00V311.40ZM172.00 311.40V308.98H172.50V311.40ZM172.50 311.40V309.56H173.00V311.40ZM173.00 311.40V309.40H173.50V311.40ZM173.50 311.40V309.73H174.00V311.40ZM174.00 311.40V308.84H174.50V311.40ZM174.50 311.40V309.21H175.00V311.40ZM175.00 311.40V309.56H175.50V311.40ZM175.50 311.40V309.58H176.00V311.40ZM176.00 311.40V309.65H176.50V311.40ZM176.50 311.40V308.77H177.00V311.40ZM177.00 311.40V309.02H177.50V311.40ZM177.50 311.40V308.84H178.00V311.40ZM178.00 311.40V308.91H178.50V311.40ZM178.50 311.40V309.69H179.00V311.40ZM179.00 311.40V309.30H179.50V311.40ZM179.50 311.40V309.65H180.00V311.40ZM180.00 311.40V309.09H180.50V311.40ZM180.50 311.40V309.58H181.00V311.40ZM181.00 311.40V309.16H181.50V311.40ZM181.50 311.40V308.97H182.00V311.40ZM182.00 311.40V309.48H182.50V311.40ZM182.50 311.40V309.65H183.00V311.40ZM183.00 311.40V308.81H183.50V311.40ZM183.50 311.40V308.45H184.00V311.40ZM184.00 311.40V307.62H184.50V311.40ZM184.50 311.40V307.22H185.00V311.40ZM185.00 311.40V307.37H185.50V311.40ZM185.50 311.40V307.14H186.00V311.40ZM186.00 311.40V307.20H186.20V311.40ZM193.10 311.40V308.76H193.60V311.40ZM193.60 311.40V309.12H194.10V311.40ZM194.10 311.40V309.18H194.60V311.40ZM194.60 311.40V308.75H195.10V311.40ZM195.10 311.40V308.57H195.60V311.40ZM195.60 311.40V308.90H196.10V311.40ZM196.10 311.40V309.26H196.60V311.40ZM196.60 311.40V308.78H197.10V311.40ZM197.10 311.40V308.92H197.60V311.40ZM197.60 311.40V308.83H198.10V311.40ZM198.10 311.40V309.43H198.60V311.40ZM198.60 311.40V309.20H199.10V311.40ZM199.10 311.40V308.73H199.60V311.40ZM199.60 311.40V308.78H200.10V311.40ZM200.10 311.40V309.09H200.60V311.40ZM200.60 311.40V309.26H201.10V311.40ZM201.10 311.40V309.36H201.60V311.40ZM201.60 311.40V308.82H202.10V311.40ZM202.10 311.40V308.91H202.60V311.40ZM202.60 311.40V309.45H203.10V311.40ZM203.10 311.40V309.18H203.60V311.40ZM203.60 311.40V309.07H204.10V311.40ZM204.10 311.40V309.11H204.60V311.40ZM204.60 311.40V309.76H205.10V311.40ZM205.10 311.40V309.14H205.60V311.40ZM205.60 311.40V309.40H206.10V311.40ZM206.10 311.40V309.21H206.60V311.40ZM206.60 311.40V309.28H207.10V311.40ZM207.10 311.40V309.74H207.60V311.40ZM207.60 311.40V309.89H208.10V311.40ZM208.10 311.40V309.27H208.60V311.40ZM208.60 311.40V309.11H209.10V311.40ZM209.10 311.40V309.66H209.60V311.40ZM209.60 311.40V309.15H210.10V311.40ZM210.10 311.40V308.96H210.60V311.40ZM210.60 311.40V309.87H211.10V311.40ZM211.10 311.40V309.41H211.60V311.40ZM211.60 311.40V309.82H212.00V311.40ZM214.50 311.40V308.20H217.50V311.40ZM221.00 311.40V308.00H223.00V311.40ZM222.80 311.40V266.70H225.20V311.40ZM227.50 311.40V300.00H228.60V311.40ZM238.20 311.40V304.11H238.70V311.40ZM238.70 311.40V303.99H239.20V311.40ZM239.20 311.40V302.97H239.70V311.40ZM239.70 311.40V302.08H240.20V311.40ZM240.20 311.40V301.34H240.70V311.40ZM240.70 311.40V301.28H241.20V311.40ZM241.20 311.40V300.77H241.70V311.40ZM241.70 311.40V300.45H242.20V311.40ZM242.20 311.40V299.09H242.40V311.40ZM244.00 311.40V262.00H245.20V311.40ZM245.20 311.40V199.50H247.80V311.40ZM293.00 311.40V305.60H294.40V311.40ZM252.50 311.40V309.90H253.00V311.40ZM253.00 311.40V309.70H253.50V311.40ZM253.50 311.40V309.80H254.00V311.40ZM254.00 311.40V309.52H254.50V311.40ZM254.50 311.40V309.63H255.00V311.40ZM255.00 311.40V309.82H255.50V311.40ZM255.50 311.40V310.14H256.00V311.40ZM256.00 311.40V309.49H256.50V311.40ZM256.50 311.40V309.79H257.00V311.40ZM257.00 311.40V310.04H257.50V311.40ZM257.50 311.40V310.17H258.00V311.40ZM258.00 311.40V309.56H258.50V311.40ZM258.50 311.40V309.50H259.00V311.40ZM259.00 311.40V310.15H259.50V311.40ZM259.50 311.40V310.18H260.00V311.40ZM260.00 311.40V309.79H260.50V311.40ZM260.50 311.40V309.44H261.00V311.40ZM261.00 311.40V310.14H261.50V311.40ZM261.50 311.40V309.71H262.00V311.40ZM262.00 311.40V310.12H262.50V311.40ZM262.50 311.40V309.90H263.00V311.40ZM263.00 311.40V310.06H263.50V311.40ZM263.50 311.40V309.53H264.00V311.40ZM264.00 311.40V310.03H264.50V311.40ZM264.50 311.40V309.58H265.00V311.40ZM265.00 311.40V309.72H265.50V311.40ZM265.50 311.40V310.08H266.00V311.40ZM266.00 311.40V310.06H266.50V311.40ZM266.50 311.40V309.55H267.00V311.40ZM267.00 311.40V309.57H267.50V311.40ZM267.50 311.40V309.72H268.00V311.40ZM268.00 311.40V309.81H268.50V311.40ZM268.50 311.40V309.71H269.00V311.40ZM269.00 311.40V309.50H269.50V311.40ZM269.50 311.40V309.60H270.00V311.40ZM270.00 311.40V309.98H270.50V311.40ZM270.50 311.40V310.12H271.00V311.40ZM271.00 311.40V309.43H271.50V311.40ZM271.50 311.40V309.85H272.00V311.40ZM272.00 311.40V310.01H272.50V311.40ZM272.50 311.40V309.43H273.00V311.40ZM273.00 311.40V310.07H273.50V311.40ZM273.50 311.40V309.49H274.00V311.40ZM274.00 311.40V309.88H274.50V311.40ZM274.50 311.40V309.84H275.00V311.40ZM275.00 311.40V309.90H275.50V311.40ZM275.50 311.40V309.64H276.00V311.40ZM276.00 311.40V309.74H276.50V311.40ZM276.50 311.40V309.87H277.00V311.40ZM277.00 311.40V309.74H277.50V311.40ZM277.50 311.40V309.93H278.00V311.40ZM278.00 311.40V309.76H278.50V311.40ZM278.50 311.40V309.75H279.00V311.40ZM279.00 311.40V309.42H279.50V311.40ZM279.50 311.40V309.90H280.00V311.40ZM280.00 311.40V309.79H280.50V311.40ZM280.50 311.40V309.59H281.00V311.40ZM281.00 311.40V310.01H281.50V311.40ZM281.50 311.40V310.02H282.00V311.40ZM282.00 311.40V309.77H282.50V311.40ZM282.50 311.40V309.54H283.00V311.40ZM283.00 311.40V309.78H283.50V311.40ZM283.50 311.40V309.49H284.00V311.40ZM284.00 311.40V309.50H284.50V311.40ZM284.50 311.40V309.74H285.00V311.40ZM285.00 311.40V309.47H285.50V311.40ZM285.50 311.40V309.75H286.00V311.40ZM286.00 311.40V309.81H286.50V311.40ZM286.50 311.40V309.43H287.00V311.40ZM287.00 311.40V309.91H287.50V311.40ZM287.50 311.40V309.47H288.00V311.40ZM288.00 311.40V309.99H288.50V311.40ZM288.50 311.40V310.02H289.00V311.40ZM289.00 311.40V309.81H289.50V311.40ZM289.50 311.40V309.44H290.00V311.40ZM290.00 311.40V309.80H290.50V311.40ZM290.50 311.40V309.70H291.00V311.40ZM291.00 311.40V310.16H291.50V311.40ZM291.50 311.40V309.51H292.00V311.40ZM292.00 311.40V310.09H292.50V311.40ZM292.50 311.40V310.20H293.00V311.40ZM293.00 311.40V309.99H293.50V311.40ZM293.50 311.40V310.05H294.00V311.40ZM294.00 311.40V309.55H294.50V311.40ZM294.50 311.40V310.19H295.00V311.40ZM295.00 311.40V309.79H295.50V311.40ZM295.50 311.40V310.17H296.00V311.40ZM296.00 311.40V310.13H296.50V311.40ZM296.50 311.40V309.53H297.00V311.40ZM297.00 311.40V310.03H297.50V311.40ZM297.50 311.40V310.14H298.00V311.40ZM298.00 311.40V309.45H298.50V311.40ZM298.50 311.40V309.68H299.00V311.40ZM299.00 311.40V310.00H299.50V311.40ZM299.50 311.40V309.53H300.00V311.40ZM300.00 311.40V310.12H300.50V311.40ZM300.50 311.40V309.62H301.00V311.40ZM301.00 311.40V310.05H301.50V311.40ZM301.50 311.40V309.51H302.00V311.40ZM302.00 311.40V309.80H302.50V311.40ZM302.50 311.40V310.14H303.00V311.40ZM303.00 311.40V309.57H303.50V311.40ZM303.50 311.40V309.61H304.00V311.40ZM304.00 311.40V309.80H304.50V311.40ZM304.50 311.40V309.66H305.00V311.40ZM305.00 311.40V309.43H305.50V311.40ZM305.50 311.40V309.55H306.00V311.40ZM306.00 311.40V309.53H306.50V311.40ZM306.50 311.40V310.15H307.00V311.40ZM307.00 311.40V309.94H307.50V311.40ZM307.50 311.40V310.12H308.00V311.40ZM308.00 311.40V309.53H308.50V311.40ZM308.50 311.40V310.03H309.00V311.40ZM309.00 311.40V309.49H309.50V311.40ZM309.50 311.40V309.82H310.00V311.40ZM310.00 311.40V309.91H310.50V311.40ZM310.50 311.40V309.69H311.00V311.40ZM311.00 311.40V310.10H311.50V311.40ZM311.50 311.40V309.84H312.00V311.40ZM312.00 311.40V309.86H312.50V311.40ZM312.50 311.40V310.11H313.00V311.40ZM313.00 311.40V309.48H313.50V311.40ZM313.50 311.40V310.19H314.00V311.40ZM314.00 311.40V309.90H314.50V311.40ZM314.50 311.40V309.72H315.00V311.40ZM315.00 311.40V310.04H315.50V311.40ZM315.50 311.40V309.61H316.00V311.40ZM316.00 311.40V310.19H316.50V311.40ZM316.50 311.40V309.86H317.00V311.40ZM317.00 311.40V309.69H317.50V311.40ZM317.50 311.40V310.01H318.00V311.40ZM318.00 311.40V309.75H318.50V311.40ZM318.50 311.40V309.54H319.00V311.40ZM319.00 311.40V309.99H319.50V311.40ZM319.50 311.40V309.44H320.00V311.40ZM320.00 311.40V310.06H320.50V311.40ZM320.50 311.40V309.60H321.00V311.40ZM321.00 311.40V309.91H321.50V311.40ZM321.50 311.40V310.19H322.00V311.40ZM322.00 311.40V309.87H322.50V311.40ZM322.50 311.40V309.93H323.00V311.40ZM323.00 311.40V309.65H323.50V311.40ZM323.50 311.40V309.40H324.00V311.40ZM324.00 311.40V309.43H324.50V311.40ZM324.50 311.40V309.52H325.00V311.40ZM325.00 311.40V309.89H325.50V311.40ZM325.50 311.40V309.75H326.00V311.40ZM326.00 311.40V309.81H326.50V311.40ZM326.50 311.40V310.12H327.00V311.40ZM327.00 311.40V309.51H327.50V311.40ZM327.50 311.40V309.58H328.00V311.40ZM328.00 311.40V309.92H328.50V311.40ZM328.50 311.40V309.42H329.00V311.40ZM329.00 311.40V309.40H329.50V311.40ZM329.50 311.40V309.68H330.00V311.40ZM330.00 311.40V309.49H330.50V311.40ZM330.50 311.40V309.69H331.00V311.40ZM331.00 311.40V309.58H331.50V311.40ZM331.50 311.40V309.87H332.00V311.40ZM332.00 311.40V309.87H332.50V311.40ZM332.50 311.40V309.56H333.00V311.40ZM333.00 311.40V309.90H333.50V311.40ZM333.50 311.40V309.78H334.00V311.40ZM334.00 311.40V309.51H334.50V311.40ZM334.50 311.40V310.15H335.00V311.40ZM335.00 311.40V309.59H335.50V311.40ZM335.50 311.40V309.52H336.00V311.40ZM336.00 311.40V309.48H336.50V311.40ZM336.50 311.40V309.91H337.00V311.40ZM337.50 311.40V307.50H338.00V311.40ZM338.00 311.40V306.80H338.50V311.40ZM338.50 311.40V306.22H339.00V311.40ZM339.00 311.40V306.95H339.50V311.40ZM339.50 311.40V307.02H340.00V311.40ZM340.00 311.40V307.39H340.50V311.40ZM340.50 311.40V306.39H341.00V311.40ZM341.00 311.40V306.06H341.50V311.40ZM341.50 311.40V306.53H342.00V311.40ZM342.00 311.40V306.00H342.50V311.40ZM342.50 311.40V305.90H343.00V311.40ZM343.00 311.40V307.16H343.50V311.40ZM343.50 311.40V306.08H344.00V311.40ZM344.00 311.40V306.47H344.50V311.40ZM344.50 311.40V306.86H345.00V311.40ZM345.00 311.40V306.15H345.50V311.40ZM345.50 311.40V305.83H346.00V311.40ZM346.00 311.40V306.90H346.50V311.40ZM346.50 311.40V305.86H347.00V311.40ZM347.00 311.40V306.94H347.50V311.40ZM347.50 311.40V306.97H348.00V311.40ZM348.00 311.40V308.26H348.50V311.40ZM348.50 311.40V306.08H349.00V311.40ZM349.00 311.40V307.11H349.50V311.40ZM349.50 311.40V307.29H350.00V311.40ZM350.00 311.40V306.52H350.50V311.40ZM350.50 311.40V306.80H351.00V311.40ZM351.00 311.40V306.97H351.50V311.40ZM351.50 311.40V307.18H352.00V311.40ZM352.00 311.40V306.70H352.50V311.40ZM352.50 311.40V306.60H353.00V311.40ZM353.00 311.40V307.10H353.50V311.40ZM353.50 311.40V308.28H354.00V311.40ZM354.00 311.40V307.60H354.50V311.40ZM354.50 311.40V307.79H355.00V311.40ZM355.00 311.40V308.79H355.50V311.40ZM355.50 311.40V308.68H356.00V311.40ZM356.00 311.40V309.16H356.50V311.40ZM356.50 311.40V308.95H357.00V311.40ZM357.00 311.40V308.96H357.50V311.40ZM357.50 311.40V308.76H358.00V311.40ZM358.00 311.40V308.16H358.50V311.40ZM359.00 311.40V309.61H359.50V311.40ZM359.50 311.40V308.98H360.00V311.40ZM360.00 311.40V309.44H360.50V311.40ZM360.50 311.40V308.61H361.00V311.40ZM361.00 311.40V308.60H361.50V311.40ZM361.50 311.40V307.70H362.00V311.40ZM362.00 311.40V307.97H362.50V311.40ZM362.50 311.40V308.32H363.00V311.40ZM363.00 311.40V306.98H363.50V311.40ZM363.50 311.40V307.89H364.00V311.40ZM364.00 311.40V306.47H364.50V311.40ZM364.50 311.40V309.39H365.00V311.40ZM365.00 311.40V307.02H365.50V311.40ZM365.50 311.40V307.01H366.00V311.40ZM366.00 311.40V307.92H366.50V311.40ZM366.50 311.40V306.85H367.00V311.40ZM367.00 311.40V306.21H367.50V311.40ZM367.50 311.40V305.76H368.00V311.40ZM368.00 311.40V306.10H368.50V311.40ZM368.50 311.40V306.18H369.00V311.40ZM369.00 311.40V306.99H369.50V311.40ZM369.50 311.40V306.80H370.00V311.40ZM370.00 311.40V305.62H370.50V311.40ZM370.50 311.40V306.16H371.00V311.40ZM371.00 311.40V306.00H371.50V311.40ZM378.00 311.40V309.82H378.50V311.40ZM378.50 311.40V309.63H379.00V311.40ZM379.00 311.40V310.02H379.50V311.40ZM379.50 311.40V309.56H380.00V311.40ZM380.00 311.40V310.00H380.50V311.40ZM380.50 311.40V309.61H381.00V311.40ZM381.00 311.40V309.51H381.50V311.40ZM381.50 311.40V309.64H382.00V311.40ZM382.00 311.40V309.98H382.50V311.40ZM382.50 311.40V310.11H383.00V311.40ZM383.00 311.40V309.52H383.50V311.40ZM383.50 311.40V309.82H384.00V311.40ZM384.00 311.40V309.82H384.50V311.40ZM384.50 311.40V310.01H385.00V311.40ZM385.00 311.40V309.64H385.50V311.40ZM385.50 311.40V309.83H386.00V311.40ZM386.00 311.40V309.74H386.50V311.40ZM386.50 311.40V310.04H387.00V311.40ZM387.00 311.40V309.70H387.50V311.40ZM387.50 311.40V310.11H388.00V311.40ZM388.00 311.40V309.71H388.50V311.40ZM388.50 311.40V309.67H389.00V311.40ZM389.00 311.40V309.97H389.50V311.40ZM389.50 311.40V309.85H390.00V311.40ZM390.00 311.40V309.62H390.50V311.40ZM390.50 311.40V309.94H391.00V311.40ZM391.00 311.40V309.60H391.50V311.40ZM391.50 311.40V310.03H392.00V311.40ZM392.00 311.40V309.98H392.50V311.40ZM392.50 311.40V310.03H393.00V311.40ZM393.00 311.40V309.94H393.50V311.40ZM393.50 311.40V309.78H394.00V311.40ZM394.00 311.40V309.81H394.50V311.40ZM394.50 311.40V309.81H395.00V311.40ZM395.00 311.40V310.11H395.50V311.40ZM395.50 311.40V309.63H396.00V311.40ZM396.00 311.40V310.11H396.50V311.40ZM396.50 311.40V309.59H397.00V311.40ZM397.00 311.40V309.71H397.50V311.40ZM397.50 311.40V309.74H398.00V311.40ZM398.00 311.40V310.13H398.50V311.40ZM398.50 311.40V309.89H399.00V311.40ZM399.00 311.40V309.82H399.50V311.40ZM399.50 311.40V310.12H400.00V311.40ZM400.00 311.40V309.73H400.50V311.40ZM400.50 311.40V309.87H401.00V311.40ZM401.00 311.40V309.92H401.50V311.40ZM401.50 311.40V310.05H402.00V311.40ZM402.00 311.40V310.05H402.50V311.40ZM402.50 311.40V309.99H403.00V311.40ZM403.00 311.40V309.82H403.50V311.40ZM403.50 311.40V309.81H404.00V311.40ZM404.00 311.40V309.70H404.50V311.40ZM404.50 311.40V310.12H405.00V311.40ZM405.00 311.40V310.01H405.50V311.40ZM405.50 311.40V310.06H406.00V311.40ZM406.00 311.40V309.72H406.50V311.40ZM406.50 311.40V309.89H407.00V311.40ZM407.00 311.40V310.09H407.50V311.40ZM407.50 311.40V309.97H408.00V311.40ZM408.00 311.40V309.70H408.50V311.40ZM408.50 311.40V309.91H409.00V311.40ZM409.00 311.40V310.16H409.50V311.40ZM409.50 311.40V309.78H410.00V311.40ZM410.00 311.40V309.75H410.50V311.40ZM410.50 311.40V309.82H411.00V311.40ZM411.00 311.40V310.06H411.50V311.40ZM411.50 311.40V310.15H412.00V311.40ZM412.00 311.40V309.74H412.50V311.40ZM412.50 311.40V309.74H413.00V311.40ZM413.00 311.40V309.80H413.50V311.40ZM413.50 311.40V309.85H414.00V311.40ZM414.00 311.40V309.97H414.50V311.40ZM414.50 311.40V309.75H415.00V311.40ZM415.00 311.40V309.86H415.50V311.40ZM415.50 311.40V309.77H416.00V311.40ZM416.00 311.40V310.25H416.50V311.40ZM416.50 311.40V310.10H417.00V311.40ZM417.00 311.40V309.73H417.50V311.40ZM417.50 311.40V310.25H418.00V311.40ZM418.00 311.40V309.73H418.50V311.40ZM418.50 311.40V309.90H419.00V311.40ZM419.00 311.40V310.27H419.50V311.40ZM419.50 311.40V310.15H420.00V311.40ZM420.00 311.40V310.12H420.50V311.40ZM420.50 311.40V309.94H421.00V311.40ZM421.00 311.40V309.80H421.50V311.40ZM421.50 311.40V310.07H422.00V311.40ZM422.00 311.40V309.75H422.50V311.40ZM422.50 311.40V309.81H423.00V311.40ZM423.00 311.40V309.93H423.50V311.40ZM423.50 311.40V309.72H424.00V311.40ZM424.00 311.40V309.94H424.50V311.40ZM424.50 311.40V310.17H425.00V311.40ZM398.50 311.40V305.30H404.60V311.40ZM96.10 311.40V309.32H97.90V311.40ZM103.90 311.40V309.32H105.90V311.40ZM110.40 311.40V310.04H112.20V311.40ZM114.70 311.40V309.20H116.70V311.40ZM119.70 311.40V309.31H121.70V311.40ZM123.20 311.40V309.39H124.80V311.40ZM134.60 311.40V309.99H136.20V311.40ZM145.90 311.40V309.35H147.70V311.40ZM147.80 311.40V309.63H149.80V311.40ZM157.30 311.40V309.53H159.50V311.40ZM242.40 311.40V299.09H244.00V311.40ZM390.40 311.40V309.94H392.40V311.40ZM394.65 311.40V309.78H396.15V311.40ZM399.80 311.40V305.30H401.80V311.40ZM402.80 311.40V310.01H404.60V311.40ZM408.40 311.40V309.75H410.40V311.40ZM410.30 311.40V309.75H412.10V311.40ZM424.45 311.40V309.80H425.95V311.40Z" fill="#FF0000"/>
<path d="M250.60 309.90V259.80H252.40V309.90ZM261.00 309.90V269.80H263.20V309.90ZM276.00 309.90V286.40H278.20V309.90ZM284.10 309.90V306.20H286.10V309.90ZM291.00 309.90V296.20H293.00V309.90ZM303.60 309.90V306.20H305.60V309.90ZM326.45 309.90V298.90H327.95V309.90ZM328.10 309.90V288.80H330.10V309.90ZM332.20 309.90V304.90H334.00V309.90ZM334.00 309.90V307.00H335.40V309.90ZM371.40 309.90V272.50H373.40V309.90ZM375.90 309.90V302.20H377.90V309.90Z" fill="#D4303C"/>
<path d="M57.5 217.71h6M57.5 236.43h6M57.5 255.14h6M57.5 273.86h6M57.5 292.57h6M57.5 311.28h6M600.0 217.71h-6M600.0 236.43h-6M600.0 255.14h-6M600.0 273.86h-6M600.0 292.57h-6M600.0 311.28h-6M180.90 199.5v6M180.90 330.5v-6M304.30 199.5v6M304.30 330.5v-6M427.70 199.5v6M427.70 330.5v-6M551.10 199.5v6M551.10 330.5v-6" stroke="#000" stroke-opacity="0.62" stroke-width="0.9" fill="none"/>
<rect x="57.5" y="199.5" width="542.5" height="131.0" fill="none" stroke="#000" stroke-opacity="0.5" stroke-width="1"/>
<path d="M57.5 293.2H600.6" stroke="#111" stroke-width="1.75" fill="none"/>
<text transform="translate(343.8,20.8) scale(1,0.945)" font-size="12.25" text-anchor="middle" font-family="Liberation Sans, sans-serif" font-weight="bold" fill="#101010" stroke="#101010" stroke-width="0.25" >Signal Magnitude Area (SMA)</text>
<text transform="translate(51.0,37.7) scale(1,0.945)" font-size="15" text-anchor="end" font-family="Liberation Serif, serif" font-weight="bold" fill="#101010" stroke="#101010" stroke-width="0.3" >1.2</text>
<text transform="translate(51.0,74.3) scale(1,0.945)" font-size="15" text-anchor="end" font-family="Liberation Serif, serif" font-weight="bold" fill="#101010" stroke="#101010" stroke-width="0.3" >0.8</text>
<text transform="translate(51.0,111.9) scale(1,0.945)" font-size="15" text-anchor="end" font-family="Liberation Serif, serif" font-weight="bold" fill="#101010" stroke="#101010" stroke-width="0.3" >0.4</text>
<text transform="translate(51.0,149.1) scale(1,0.945)" font-size="15" text-anchor="end" font-family="Liberation Serif, serif" font-weight="bold" fill="#101010" stroke="#101010" stroke-width="0.3" >0</text>
<text transform="translate(50.4,204.5) scale(1,0.945)" font-size="15" text-anchor="end" font-family="Liberation Serif, serif" font-weight="bold" fill="#101010" stroke="#101010" stroke-width="0.3" >1.2</text>
<text transform="translate(50.4,241.0) scale(1,0.945)" font-size="15" text-anchor="end" font-family="Liberation Serif, serif" font-weight="bold" fill="#101010" stroke="#101010" stroke-width="0.3" >0.8</text>
<text transform="translate(50.4,278.7) scale(1,0.945)" font-size="15" text-anchor="end" font-family="Liberation Serif, serif" font-weight="bold" fill="#101010" stroke="#101010" stroke-width="0.3" >0.4</text>
<text transform="translate(50.4,314.7) scale(1,0.945)" font-size="15" text-anchor="end" font-family="Liberation Serif, serif" font-weight="bold" fill="#101010" stroke="#101010" stroke-width="0.3" >0</text>
<text transform="translate(18.3,92.0) rotate(-90) scale(0.985,0.88)" font-size="15.7" text-anchor="middle" font-family="Liberation Serif, serif" font-weight="bold" fill="#101010" stroke="#101010" stroke-width="0.3">Acceleration (g)</text>
<text transform="translate(22.2,261.7) rotate(-90) scale(0.985,0.88)" font-size="15.7" text-anchor="middle" font-family="Liberation Serif, serif" font-weight="bold" fill="#101010" stroke="#101010" stroke-width="0.3">Acceleration (g)</text>
<text transform="translate(137.5,184.3) scale(1,0.945)" font-size="16" text-anchor="middle" font-family="Liberation Serif, serif" font-weight="bold" fill="#101010" stroke="#101010" stroke-width="0.3" >Active</text>
<text transform="translate(303.7,184.6) scale(1,0.945)" font-size="16" text-anchor="middle" font-family="Liberation Serif, serif" font-weight="bold" fill="#101010" stroke="#101010" stroke-width="0.3" >Sleep</text>
<text transform="translate(482.2,185.2) scale(1,0.945)" font-size="16" text-anchor="middle" font-family="Liberation Serif, serif" font-weight="bold" fill="#101010" stroke="#101010" stroke-width="0.3" >Active</text>
<text transform="translate(554.0,58.0) scale(1,0.945)" font-size="16" text-anchor="middle" font-family="Liberation Serif, serif" font-weight="bold" fill="#101010" stroke="#101010" stroke-width="0.3" >Trunk</text>
<text transform="translate(532.4,229.2) scale(1,0.945)" font-size="15.6" text-anchor="start" font-family="Liberation Serif, serif" font-weight="bold" fill="#101010" stroke="#101010" stroke-width="0.3" >Thigh</text>
<text transform="translate(610.4,130.4) scale(1,1.0)" font-size="12.2" text-anchor="start" font-family="Liberation Sans, sans-serif" font-weight="bold" fill="#101010" stroke="#101010" stroke-width="0.25" >Activity rest threshold</text>
<text transform="translate(612,297.8) scale(1,1.0)" font-size="12.2" text-anchor="start" font-family="Liberation Sans, sans-serif" font-weight="bold" fill="#101010" stroke="#101010" stroke-width="0.25" >Activity rest threshold</text>
<text transform="translate(59,348.3) scale(1,0.945)" font-size="15" text-anchor="middle" font-family="Liberation Serif, serif" font-weight="bold" fill="#101010" stroke="#101010" stroke-width="0.3" >0</text>
<text transform="translate(181,348.2) scale(1,0.945)" font-size="15" text-anchor="middle" font-family="Liberation Serif, serif" font-weight="bold" fill="#101010" stroke="#101010" stroke-width="0.3" >5</text>
<text transform="translate(305.9,346.8) scale(1,0.945)" font-size="15" text-anchor="middle" font-family="Liberation Serif, serif" font-weight="bold" fill="#101010" stroke="#101010" stroke-width="0.3" >10</text>
<text transform="translate(431.4,345.8) scale(1,0.945)" font-size="15" text-anchor="middle" font-family="Liberation Serif, serif" font-weight="bold" fill="#101010" stroke="#101010" stroke-width="0.3" >15</text>
<text transform="translate(552.3,345.6) scale(1,0.945)" font-size="15" text-anchor="middle" font-family="Liberation Serif, serif" font-weight="bold" fill="#101010" stroke="#101010" stroke-width="0.3" >20</text>
<text transform="translate(62.8,369.4) scale(1,0.945)" font-size="16" text-anchor="middle" font-family="Liberation Serif, serif" font-weight="bold" fill="#101010" stroke="#101010" stroke-width="0.3" >5 PM</text>
<text transform="translate(181.2,370.7) scale(1,0.945)" font-size="16" text-anchor="middle" font-family="Liberation Serif, serif" font-weight="bold" fill="#101010" stroke="#101010" stroke-width="0.3" >10 PM</text>
<text transform="translate(305.8,371.7) scale(1,0.945)" font-size="16" text-anchor="middle" font-family="Liberation Serif, serif" font-weight="bold" fill="#101010" stroke="#101010" stroke-width="0.3" >3 AM</text>
<text transform="translate(428.9,371) scale(1,0.945)" font-size="16" text-anchor="middle" font-family="Liberation Serif, serif" font-weight="bold" fill="#101010" stroke="#101010" stroke-width="0.3" >8 AM</text>
<text transform="translate(550.2,370.7) scale(1,0.945)" font-size="16" text-anchor="middle" font-family="Liberation Serif, serif" font-weight="bold" fill="#101010" stroke="#101010" stroke-width="0.3" >1 PM</text>
<text transform="translate(310,396.3) scale(1,0.945)" font-size="15.8" text-anchor="middle" font-family="Liberation Serif, serif" font-weight="bold" fill="#101010" stroke="#101010" stroke-width="0.3" >Time (hrs)</text>
</svg>
</body></html>
